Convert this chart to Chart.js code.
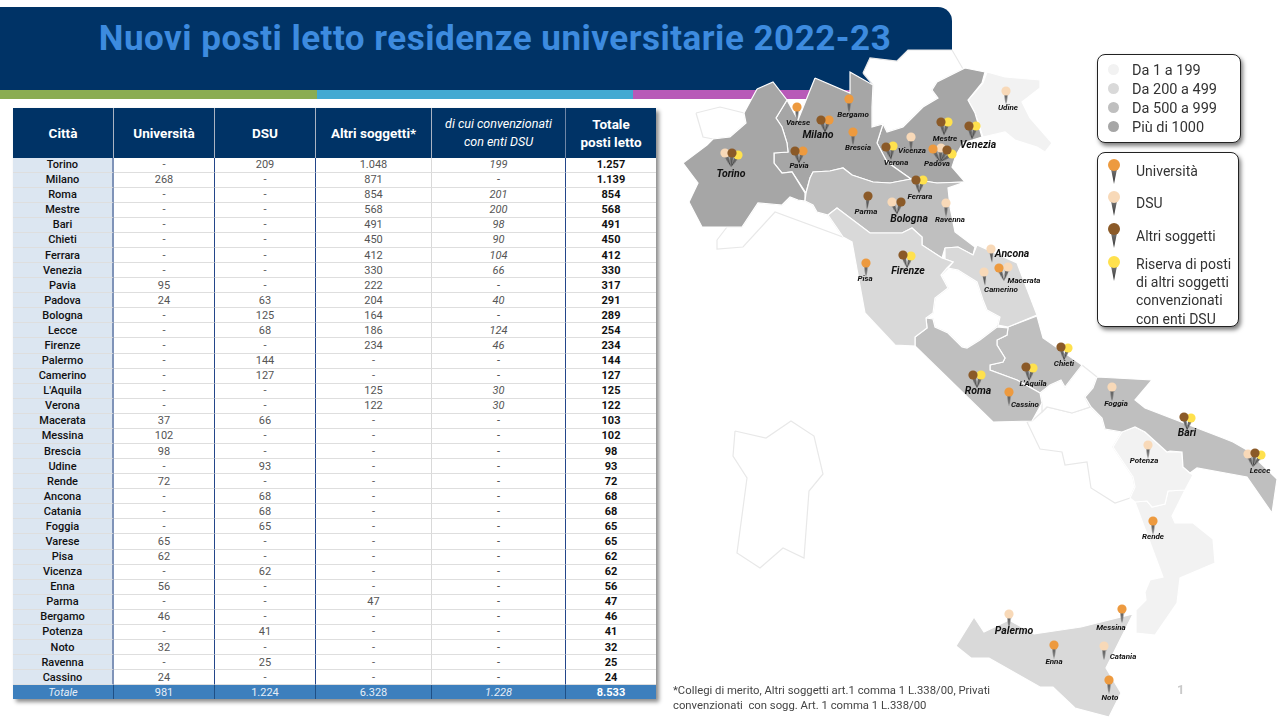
<!DOCTYPE html>
<html lang="it">
<head>
<meta charset="utf-8">
<title>Nuovi posti letto residenze universitarie 2022-23</title>
<script src="https://cdn.jsdelivr.net/npm/chart.js@4/dist/chart.umd.js"></script>
<style>
  html, body { margin: 0; padding: 0; width: 1280px; height: 720px; overflow: hidden; background: #fff; font-family: Roboto, sans-serif; }
  #banner { position: absolute; left: 0; top: 7px; width: 952px; height: 83px; background: #003366; border-top-right-radius: 14px; }
  #title { position: absolute; left: 0; top: 19px; width: 990px; text-align: center; color: #3d8bdf; font-size: 35px; font-weight: 700; line-height: 40px; letter-spacing: 0.5px; white-space: nowrap; }
  .bar { position: absolute; top: 90px; height: 9px; }
  #map { position: absolute; left: 0; top: 0; width: 1280px; height: 720px; }
  #table { position: absolute; left: 13px; top: 108px; display: grid; grid-template-columns: 101px 101px 101px 116px 134px 90px; grid-template-rows: 49.5px repeat(35, 15.09px) 14px; box-shadow: 3px 3px 4px rgba(0,0,0,.45); }
  #table div { box-sizing: border-box; display: flex; align-items: center; justify-content: center; font-size: 11px; color: #555; border-bottom: 1.5px solid #dedede; white-space: nowrap; }
  #table div.head { background: #003366; color: #fff; font-weight: 700; font-size: 13.5px; line-height: 18px; text-align: center; border-bottom: 0; border-right: 1.5px solid #a9b3c2; white-space: pre-line; }
  #table div.head.conv { font-weight: 400; font-style: italic; font-size: 12.5px; border-right: 1px solid #6f86a6; }
  #table div.head.last { border-right: 0; }
  #table div.city { background: #dce6f1; color: #111; font-weight: 500; border-right: 2px solid #7f93b8; }
  #table div.sep { border-right: 1.5px solid #24468a; }
  #table div.pale { border-right: 1px solid #d9d9d9; }
  #table div.it { font-style: italic; }
  #table div.total { color: #111; font-weight: 700; }
  #table div.foot { background: #3d7fbd; color: #e6eef7; border-bottom: 0; border-right: 1.5px solid #1f4f85; }
  #table div.foot.bold { font-weight: 700; color: #fff; border-right: 0; }
  .box { position: absolute; box-sizing: border-box; background: #fff; border: 1px solid #222; border-radius: 8px; box-shadow: 2px 3px 4px rgba(0,0,0,.5); }
  .swatch { position: absolute; width: 11px; height: 11px; border-radius: 50%; }
  .ltext { position: absolute; color: #333; font-size: 14px; line-height: 18.2px; white-space: nowrap; }
  .lhead { position: absolute; width: 12px; height: 12px; border-radius: 50%; z-index: 1; }
  .ltail { position: absolute; width: 6px; height: 15px; background: linear-gradient(#777, #333); clip-path: polygon(0 0, 100% 0, 50% 100%); }
  #note { position: absolute; left: 673px; top: 684px; font-size: 11.3px; line-height: 14.5px; color: #444; white-space: pre; }
  #page { position: absolute; left: 1177px; top: 682px; font-size: 13px; font-weight: 700; color: #c9c9c9; }
</style>
</head>
<body>
<div id="banner"></div>
<div class="bar" style="left:0;width:317px;background:#8aac52"></div>
<div class="bar" style="left:317px;width:316px;background:#42a9d2"></div>
<div class="bar" style="left:633px;width:319px;background:#b85ab8"></div>
<div id="title">Nuovi posti letto residenze universitarie 2022-23</div>
<div id="table"></div>
<canvas id="map" width="1280" height="720"></canvas>
<div class="box" style="left:1097px;top:54px;width:144px;height:89px"></div>
<div class="box" style="left:1097px;top:152px;width:142px;height:175px"></div>
<div id="legends"></div>
<div id="note">*Collegi di merito, Altri soggetti art.1 comma 1 L.338/00, Privati
convenzionati  con sogg. Art. 1 comma 1 L.338/00</div>
<div id="page">1</div>

<script>
// table data
const headers = ['Città', 'Università', 'DSU', 'Altri soggetti*', 'di cui convenzionati\ncon enti DSU', 'Totale\nposti letto'];
const cities = ['Torino','Milano','Roma','Mestre','Bari','Chieti','Ferrara','Venezia','Pavia','Padova','Bologna','Lecce','Firenze','Palermo','Camerino',"L'Aquila",'Verona','Macerata','Messina','Brescia','Udine','Rende','Ancona','Catania','Foggia','Varese','Pisa','Vicenza','Enna','Parma','Bergamo','Potenza','Noto','Ravenna','Cassino'];
const universita = [0,268,0,0,0,0,0,0,95,24,0,0,0,0,0,0,0,37,102,98,0,72,0,0,0,65,62,0,56,0,46,0,32,0,24];
const dsu = [209,0,0,0,0,0,0,0,0,63,125,68,0,144,127,0,0,66,0,0,93,0,68,68,65,0,0,62,0,0,0,41,0,25,0];
const altri = [1048,871,854,568,491,450,412,330,222,204,164,186,234,0,0,125,122,0,0,0,0,0,0,0,0,0,0,0,0,47,0,0,0,0,0];
const convenzionati = [199,0,201,200,98,90,104,66,0,40,0,124,46,0,0,30,30,0,0,0,0,0,0,0,0,0,0,0,0,0,0,0,0,0,0];
const totali = [1257,1139,854,568,491,450,412,330,317,291,289,254,234,144,127,125,122,103,102,98,93,72,68,68,65,65,62,62,56,47,46,41,32,25,24];
const rigaTotale = [981,1224,6328,1228,8533];

// map: region outlines by class of new beds
const piemonte = [[757,89],[773,82],[787,100],[776,118],[782,127],[787,143],[788,152],[774,153],[774,163],[782,173],[792,172],[805,193],[805,201],[798,200],[790,197],[782,205],[758,203],[742,227],[702,227],[689,202],[698,183],[683,163],[707,145],[713,139],[730,137],[746,123],[744,113]];
const lombardia = [[815,78],[850,93],[850,72],[873,85],[872,107],[872,127],[883,124],[877,143],[887,162],[911,179],[890,183],[873,182],[852,175],[843,168],[830,171],[813,172],[810,178],[806,193],[792,172],[782,173],[774,163],[774,153],[788,152],[787,143],[782,127],[776,118],[787,100],[798,120]];
const veneto = [[965,68],[985,72],[982,83],[968,100],[975,113],[982,137],[963,143],[956,155],[952,167],[965,182],[937,183],[911,179],[887,162],[877,143],[883,124],[887,132],[903,127],[923,107],[938,98],[932,90],[937,82]];
const emilia = [[806,193],[810,178],[813,172],[830,171],[843,168],[852,175],[873,182],[890,183],[911,179],[937,183],[965,182],[948,188],[950,207],[955,232],[975,247],[973,255],[958,247],[945,248],[942,258],[922,245],[922,237],[912,228],[902,233],[870,233],[837,208],[828,215],[817,212],[813,205],[805,201]];
const lazio = [[926,318],[933,319],[935,327],[948,333],[962,347],[967,348],[980,340],[997,327],[1008,328],[1007,335],[997,340],[997,345],[1005,358],[1003,362],[990,365],[990,370],[1017,380],[1040,393],[1042,403],[1032,421],[993,422],[915,346],[915,337],[927,328]];
const abruzzo = [[1008,327],[1037,316],[1043,338],[1082,365],[1065,387],[1061,380],[1050,385],[1040,393],[1017,380],[990,370],[990,365],[1003,362],[1005,358],[997,345],[997,340],[1007,335]];
const puglia = [[1097,377],[1152,380],[1135,400],[1145,408],[1223,438],[1233,442],[1247,450],[1277,479],[1272,513],[1247,477],[1197,468],[1190,473],[1183,467],[1182,452],[1170,451],[1167,452],[1145,432],[1135,427],[1122,432],[1105,429],[1102,418],[1091,407],[1085,397],[1093,388]];
const toscana = [[828,215],[837,208],[870,233],[902,233],[912,228],[922,237],[922,245],[942,258],[945,259],[953,262],[947,268],[941,275],[948,288],[935,298],[933,313],[926,318],[927,328],[915,337],[915,346],[895,345],[865,313],[852,242],[843,237],[837,228]];
const marche = [[945,248],[958,247],[973,255],[977,245],[1017,263],[1037,315],[1008,327],[998,325],[1000,317],[987,310],[983,300],[977,282],[958,270],[948,268],[953,262],[945,259]];
const sicilia = [[974,617],[984,632],[1009,620],[1034,634],[1081,627],[1133,614],[1106,668],[1121,693],[1109,717],[1075,708],[1053,687],[1040,687],[989,658],[971,658],[956,646]];
const friuli = [[987,72],[1005,77],[1040,80],[1040,88],[1022,102],[1030,118],[1052,143],[1045,152],[1037,147],[1015,140],[1005,132],[983,137],[975,113],[968,100],[983,83]];
const basilicata = [[1122,432],[1135,427],[1145,432],[1167,452],[1182,452],[1183,467],[1190,473],[1193,475],[1185,490],[1168,491],[1165,504],[1152,507],[1147,501],[1135,502],[1130,498],[1135,487],[1133,477],[1113,447]];
const calabria = [[1135,502],[1147,501],[1152,507],[1165,504],[1168,491],[1185,490],[1172,516],[1175,523],[1193,523],[1213,539],[1215,563],[1180,578],[1177,603],[1155,635],[1136,633],[1136,610],[1146,600],[1145,592],[1150,580],[1163,577]];
const aosta = [[696,113],[720,107],[744,113],[746,123],[730,137],[713,139],[703,137]];
const trentino = [[863,73],[870,58],[897,61],[908,50],[952,50],[963,69],[937,82],[932,90],[938,98],[923,107],[903,127],[887,132],[883,124],[872,127],[872,107],[873,85]];
const liguria = [[717,240],[727,227],[742,227],[758,203],[782,205],[790,197],[798,200],[805,201],[813,205],[817,212],[828,215],[843,237],[775,212],[743,247],[717,249]];
const umbria = [[948,268],[958,270],[977,282],[983,300],[987,310],[1000,317],[998,325],[997,327],[980,340],[967,348],[962,347],[948,333],[935,327],[933,319],[926,318],[933,313],[935,298],[948,288],[941,275]];
const molise = [[1082,365],[1097,377],[1093,388],[1085,397],[1090,407],[1072,413],[1047,407],[1042,412],[1042,403],[1040,393],[1050,385],[1061,380],[1065,387]];
const campania = [[1027,422],[1040,449],[1062,452],[1065,465],[1087,462],[1091,488],[1115,503],[1130,498],[1135,487],[1133,477],[1113,447],[1122,432],[1105,429],[1102,418],[1091,407],[1072,413],[1047,407],[1042,412],[1032,421]];
const sardegna = [[735,431],[766,438],[791,421],[814,436],[823,474],[809,491],[804,558],[783,548],[760,568],[737,553],[747,478],[733,456]];

const regioniNessuna = [aosta, trentino, liguria, umbria, molise, campania, sardegna];
const regioniFino199 = [friuli, basilicata, calabria];
const regioniFino499 = [toscana, marche, sicilia];
const regioniFino999 = [emilia, lazio, abruzzo, puglia];
const regioniOltre1000 = [piemonte, lombardia, veneto];

// pins: one row per source in a city
const pinKind = ['U','A','U','U','U','A','U','D','A','Y','A','Y','D','A','Y','A','Y','U','D','A','Y','A','Y','A','D','A','D','D','D','U','D','D','U','A','Y','A','Y','A','Y','A','Y','U','D','A','Y','D','A','Y','D','U','D','U','U','D','U'];
const pinX = [797,821,829,849,853,795,803,725,732,738,886,893,911,941,948,969,976,933,941,947,952,916,923,868,892,901,946,1006,991,999,1008,984,866,903,911,1061,1068,1026,1033,973,981,1009,1112,1184,1191,1248,1255,1261,1148,1153,1009,1122,1054,1104,1109];
const pinY = [107,120,120,99,132,151,151,153,153,155,147,146,137,122,122,126,126,149,148,150,154,180,180,196,202,202,203,91,249,268,267,272,263,255,256,347,348,367,368,375,375,392,387,417,418,454,453,455,445,521,614,609,645,646,680];
const tipX = [797,825,825,849,853,799,799,731,731,731,891,891,911,944,944,972,972,940,940,940,940,919,919,867,897,897,946,1006,992,1004,1004,985,866,907,907,1064,1064,1029,1029,977,977,1009,1112,1187,1187,1253,1253,1253,1148,1153,1009,1122,1054,1104,1109];
const tipY = [120,132,132,112,144,163,163,167,167,167,159,159,149,135,135,139,139,162,162,162,162,193,193,209,214,214,216,103,262,281,281,285,276,268,268,360,360,381,381,388,388,405,401,430,430,467,467,467,458,534,627,623,658,660,693];

// city names on the map
const labelCity = ['Torino','Varese','Milano','Bergamo','Brescia','Pavia','Verona','Vicenza','Mestre','Venezia','Padova','Ferrara','Parma','Bologna','Ravenna','Udine','Ancona','Macerata','Camerino','Pisa','Firenze','Chieti',"L'Aquila",'Roma','Cassino','Foggia','Bari','Potenza','Lecce','Rende','Palermo','Messina','Enna','Catania','Noto'];
const labelX = [731,798,818,853,858,799,896,912,945,978,937,920,866,909,950,1008,1012,1024,1001,865,908,1064,1033,978,1025,1116,1187,1144,1260,1153,1014,1111,1054,1123,1110];
const labelY = [174,123,135,115,148,166,163,151,139,145,164,197,212,219,220,108,254,281,290,279,271,364,384,391,405,404,433,461,471,537,631,628,662,657,698];
const labelBig = ['Torino','Milano','Venezia','Bologna','Ancona','Firenze','Roma','Bari','Palermo'];

const kindColor = { U: '#ed9a3f', D: '#f8d9b8', A: '#8b5a28', Y: '#ffe14d' };

// ---- table
const fmt = v => v.toLocaleString('it-IT', { useGrouping: 'always' });
const dash = v => (v === 0 ? '-' : fmt(v));
const tableEl = document.getElementById('table');
function cell(text, cls) {
  const d = document.createElement('div');
  d.textContent = text;
  d.className = cls;
  tableEl.appendChild(d);
}
headers.forEach((h, i) => cell(h, 'head' + (i === 4 ? ' conv' : '') + (i === 5 ? ' last' : '')));
cities.forEach((c, i) => {
  cell(c, 'city');
  cell(dash(universita[i]), 'sep');
  cell(dash(dsu[i]), 'sep');
  cell(dash(altri[i]), 'pale');
  cell(dash(convenzionati[i]), 'sep it');
  cell(fmt(totali[i]), 'total');
});
cell('Totale', 'foot it');
rigaTotale.forEach((v, i) => cell(fmt(v), 'foot' + (i === 3 ? ' it' : '') + (i === 4 ? ' bold' : '')));

// ---- legends
const legendsEl = document.getElementById('legends');
function addEl(cls, css, text) {
  const d = document.createElement('div');
  d.className = cls;
  d.style.cssText = css;
  if (text) d.textContent = text;
  legendsEl.appendChild(d);
}
const classLabels = ['Da 1 a 199', 'Da 200 a 499', 'Da 500 a 999', 'Più di 1000'];
const classColors = ['#f2f2f2', '#d9d9d9', '#bfbfbf', '#a6a6a6'];
const classTop = [62, 81, 100, 119];
classLabels.forEach((t, i) => {
  addEl('swatch', `left:1108px;top:${classTop[i] + 2}px;background:${classColors[i]}`);
  addEl('ltext', `left:1132px;top:${classTop[i]}px;font-size:14.5px`, t);
});
const pinLegend = [['U', 159, 'Università', 162], ['D', 191, 'DSU', 194], ['A', 223, 'Altri soggetti', 227], ['Y', 256, 'Riserva di posti\ndi altri soggetti\nconvenzionati\ncon enti DSU', 255]];
pinLegend.forEach(([k, top, t, textTop]) => {
  addEl('ltail', `left:1111px;top:${top + 10}px`);
  addEl('lhead', `left:1108px;top:${top}px;background:${kindColor[k]}`);
  addEl('ltext', `left:1136px;top:${textTop}px;white-space:pre`, t);
});

// ---- map
const tailImg = document.createElement('canvas');
tailImg.width = 5;
tailImg.height = 14;
const tctx = tailImg.getContext('2d');
const tailGrad = tctx.createLinearGradient(0, 0, 0, 14);
tailGrad.addColorStop(0, '#8a8a8a');
tailGrad.addColorStop(1, '#2e2e2e');
tctx.fillStyle = tailGrad;
tctx.beginPath();
tctx.moveTo(0, 0);
tctx.lineTo(5, 0);
tctx.lineTo(2.5, 14);
tctx.closePath();
tctx.fill();

const toPoints = poly => poly.concat([poly[0]]).map(p => ({ x: p[0], y: p[1] }));
const regionSet = (poly, color, line) => ({
  data: toPoints(poly),
  showLine: true,
  fill: 'shape',
  backgroundColor: color,
  borderColor: line,
  borderWidth: 1.2,
  tension: 0,
  pointRadius: 0,
  order: 10
});

const datasets = [];
regioniNessuna.forEach(p => datasets.push({ ...regionSet(p, '#ffffff', '#e8e8e8'), order: 12 }));
regioniFino199.forEach(p => datasets.push({ ...regionSet(p, '#f2f2f2', '#ffffff'), order: 11 }));
regioniFino499.forEach(p => datasets.push(regionSet(p, '#d9d9d9', '#ffffff')));
regioniFino999.forEach(p => datasets.push(regionSet(p, '#bfbfbf', '#ffffff')));
regioniOltre1000.forEach(p => datasets.push(regionSet(p, '#a6a6a6', '#ffffff')));

// tails sit under the heads, rotated from head to tip
datasets.push({
  data: pinX.map((x, i) => ({ x: (x + tipX[i]) / 2, y: (pinY[i] + tipY[i]) / 2 })),
  pointStyle: tailImg,
  pointRotation: pinX.map((x, i) => -Math.atan2(tipX[i] - x, tipY[i] - pinY[i]) * 180 / Math.PI),
  order: 5
});
['A', 'U', 'D', 'Y'].forEach((k, n) => {
  datasets.push({
    data: pinX.map((x, i) => ({ x, y: pinY[i], k: pinKind[i] })).filter(p => p.k === k),
    backgroundColor: kindColor[k],
    borderWidth: 0,
    pointRadius: 4.6,
    order: n + 1
  });
});

const cityLabels = {
  id: 'cityLabels',
  afterDatasetsDraw(chart) {
    const { ctx, scales } = chart;
    ctx.save();
    ctx.fillStyle = '#111';
    ctx.textAlign = 'center';
    ctx.textBaseline = 'middle';
    labelCity.forEach((name, i) => {
      ctx.font = labelBig.includes(name) ? 'italic 700 10.5px Roboto' : 'italic 700 8px Roboto';
      ctx.fillText(name, scales.x.getPixelForValue(labelX[i]), scales.y.getPixelForValue(labelY[i]));
    });
    ctx.restore();
  }
};

new Chart(document.getElementById('map').getContext('2d'), {
  type: 'scatter',
  data: { datasets },
  options: {
    responsive: false,
    animation: false,
    layout: { padding: 0, autoPadding: false },
    plugins: { legend: { display: false }, tooltip: { enabled: false } },
    scales: {
      x: { type: 'linear', display: false, min: 0, max: 1280 },
      y: { type: 'linear', display: false, min: 0, max: 720, reverse: true }
    }
  },
  plugins: [cityLabels]
});
</script>
</body>
</html>
